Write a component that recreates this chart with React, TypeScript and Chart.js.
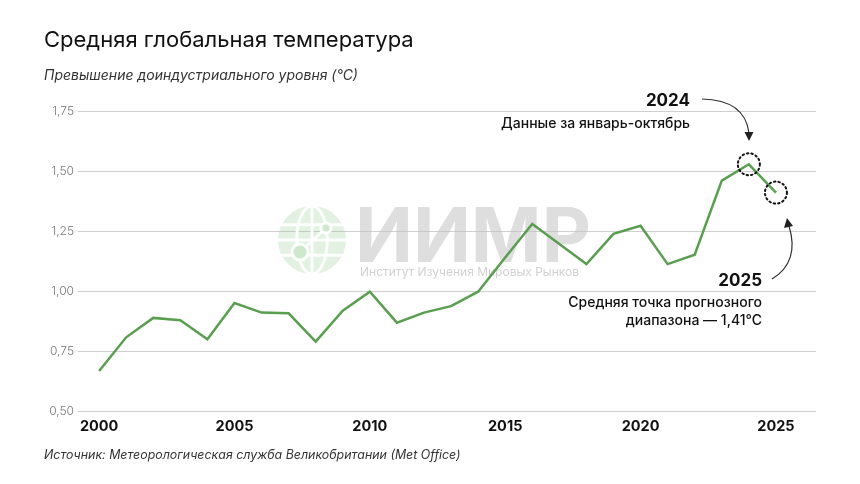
import React, { useEffect, useRef } from "react";
import { Chart, registerables } from "chart.js";

Chart.register(...registerables);

const years = [2000, 2001, 2002, 2003, 2004, 2005, 2006, 2007, 2008, 2009, 2010, 2011, 2012, 2013, 2014, 2015, 2016, 2017, 2018, 2019, 2020, 2021, 2022, 2023, 2024, 2025];
const temps = [0.667, 0.807, 0.888, 0.878, 0.799, 0.95, 0.91, 0.907, 0.789, 0.918, 0.997, 0.868, 0.91, 0.937, 0.997, 1.14, 1.279, 1.196, 1.112, 1.238, 1.272, 1.112, 1.151, 1.46, 1.528, 1.41];
const xTickYears = [2000, 2005, 2010, 2015, 2020, 2025];
const yTicks = [0.5, 0.75, 1.0, 1.25, 1.5, 1.75];

const TITLE = "Средняя глобальная температура";
const SUBTITLE = "Превышение доиндустриального уровня (°C)";
const SOURCE = "Источник: Метеорологическая служба Великобритании (Met Office)";
const FONT = "Inter, 'Noto Sans', sans-serif";

const overlayPlugin = {
  id: "overlay",
  beforeDatasetsDraw(chart: any) {
    const ctx = chart.ctx;
    ctx.save();
    // globe icon
    const cx = 312, cy = 240, r = 34;
    ctx.fillStyle = "rgba(150,205,150,0.28)";
    ctx.beginPath();
    ctx.arc(cx, cy, r, 0, Math.PI * 2);
    ctx.fill();
    ctx.strokeStyle = "rgba(255,255,255,0.9)";
    ctx.lineWidth = 3;
    ctx.beginPath();
    ctx.ellipse(cx, cy, r * 0.45, r, 0, 0, Math.PI * 2);
    ctx.stroke();
    ctx.beginPath();
    ctx.moveTo(cx, cy - r);
    ctx.lineTo(cx, cy + r);
    ctx.stroke();
    ctx.beginPath();
    ctx.moveTo(cx - r, cy);
    ctx.lineTo(cx + r, cy);
    ctx.stroke();
    ctx.beginPath();
    ctx.moveTo(cx - r * 0.9, cy - r * 0.45);
    ctx.lineTo(cx + r * 0.9, cy - r * 0.45);
    ctx.moveTo(cx - r * 0.9, cy + r * 0.45);
    ctx.lineTo(cx + r * 0.9, cy + r * 0.45);
    ctx.stroke();
    ctx.beginPath();
    ctx.moveTo(cx - 12, cy + 12);
    ctx.lineTo(cx + 14, cy - 12);
    ctx.stroke();
    ctx.fillStyle = "rgba(205,232,205,1)";
    ctx.beginPath();
    ctx.arc(cx - 12, cy + 12, 8, 0, Math.PI * 2);
    ctx.fill();
    ctx.stroke();
    ctx.beginPath();
    ctx.arc(cx + 14, cy - 12, 5, 0, Math.PI * 2);
    ctx.fill();
    ctx.stroke();
    // big letters
    ctx.fillStyle = "rgba(195,195,195,0.55)";
    ctx.font = `bold 76px ${FONT}`;
    ctx.textBaseline = "alphabetic";
    ctx.textAlign = "left";
    ctx.fillText("ИИМР", 355, 262);
    ctx.font = `12px ${FONT}`;
    ctx.fillStyle = "rgba(190,190,190,0.7)";
    ctx.fillText("Институт Изучения Мировых Рынков", 360, 276);
    ctx.restore();
  },
  afterDraw(chart: any) {
    const ctx = chart.ctx;
    const xs = chart.scales.x;
    const ys = chart.scales.y;
    ctx.save();
    // dotted circles
    ctx.strokeStyle = "#111";
    ctx.lineWidth = 2;
    ctx.setLineDash([1.5, 3]);
    ctx.lineCap = "round";
    for (const i of [24, 25]) {
      const px = xs.getPixelForValue(years[i]);
      const py = ys.getPixelForValue(temps[i]);
      ctx.beginPath();
      ctx.arc(px, py, 11, 0, Math.PI * 2);
      ctx.stroke();
    }
    ctx.setLineDash([]);
    ctx.lineCap = "butt";
    // arrows
    ctx.strokeStyle = "#333";
    ctx.fillStyle = "#222";
    ctx.lineWidth = 1.2;
    ctx.beginPath();
    ctx.moveTo(702, 99);
    ctx.quadraticCurveTo(745, 100, 749, 133);
    ctx.stroke();
    ctx.beginPath();
    ctx.moveTo(749, 141);
    ctx.lineTo(744.5, 132);
    ctx.lineTo(753.5, 132);
    ctx.closePath();
    ctx.fill();
    ctx.beginPath();
    ctx.moveTo(772, 279);
    ctx.quadraticCurveTo(800, 262, 789, 226);
    ctx.stroke();
    ctx.beginPath();
    ctx.moveTo(787, 218);
    ctx.lineTo(784, 228);
    ctx.lineTo(793, 226);
    ctx.closePath();
    ctx.fill();
    // annotation text
    ctx.textAlign = "right";
    ctx.textBaseline = "middle";
    ctx.fillStyle = "#111";
    ctx.font = `bold 17px ${FONT}`;
    ctx.fillText("2024", 690, 101);
    ctx.font = `500 14px ${FONT}`;
    ctx.fillText("Данные за январь-октябрь", 690, 124);
    ctx.font = `bold 17px ${FONT}`;
    ctx.fillText("2025", 762, 281);
    ctx.font = `500 14px ${FONT}`;
    ctx.fillText("Средняя точка прогнозного", 762, 303);
    ctx.fillText("диапазона — 1,41°C", 762, 321);
    // titles
    ctx.textAlign = "left";
    ctx.fillStyle = "#111";
    ctx.font = `22px ${FONT}`;
    ctx.fillText(TITLE, 44, 40);
    ctx.fillStyle = "#333";
    ctx.font = `italic 14px ${FONT}`;
    ctx.fillText(SUBTITLE, 44, 76);
    ctx.font = `italic 12.4px ${FONT}`;
    ctx.fillText(SOURCE, 44, 455);
    ctx.restore();
  },
};

export default function App() {
  const ref = useRef<HTMLCanvasElement | null>(null);
  useEffect(() => {
    if (!ref.current) return;
    const chart = new Chart(ref.current, {
      type: "line",
      data: {
        datasets: [
          {
            data: years.map((y, i) => ({ x: y, y: temps[i] })),
            borderColor: "#5a9e50",
            borderWidth: 2.5,
            pointRadius: 0,
            tension: 0,
            fill: false,
          },
        ],
      },
      options: {
        responsive: false,
        animation: false,
        events: [],
        layout: { padding: { top: 111, right: 44, left: 0, bottom: 0 } },
        plugins: { legend: { display: false }, tooltip: { enabled: false } },
        scales: {
          x: {
            type: "linear",
            min: 1999.22,
            max: 2026.48,
            grid: { display: false },
            border: { display: false },
            afterBuildTicks: (axis: any) => {
              axis.ticks = xTickYears.map((v) => ({ value: v }));
            },
            afterFit: (axis: any) => {
              axis.height = 73;
            },
            ticks: {
              padding: -1,
              autoSkip: false,
              maxRotation: 0,
              color: "#111",
              font: { family: FONT, size: 14.5, weight: "bold" },
              callback: (v: any) => String(v),
            },
          },
          y: {
            min: 0.5,
            max: 1.75,
            afterBuildTicks: (axis: any) => {
              axis.ticks = yTicks.map((v) => ({ value: v }));
            },
            afterFit: (axis: any) => {
              axis.width = 78;
            },
            grid: { color: "#cfcfcf", lineWidth: 1, drawTicks: false },
            border: { display: false },
            ticks: {
              padding: 4,
              color: "#777",
              font: { family: FONT, size: 12, weight: 300 },
              callback: (v: any) => Number(v).toFixed(2).replace(".", ","),
            },
          },
        },
      },
      plugins: [overlayPlugin],
    } as any);
    return () => chart.destroy();
  }, []);
  return (
    <div style={{ position: "fixed", left: 0, top: 0, width: 860, height: 484, background: "#fff" }}>
      <canvas ref={ref} width={860} height={484} style={{ width: 860, height: 484 }} />
    </div>
  );
}
